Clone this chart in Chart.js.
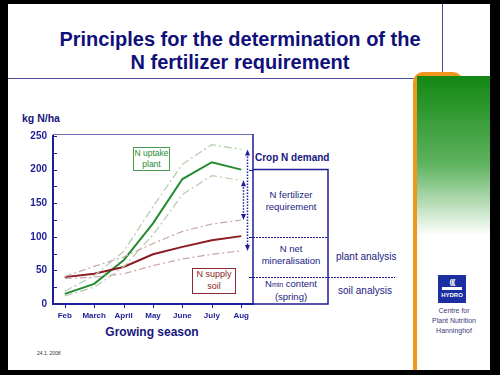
<!DOCTYPE html>
<html>
<head>
<meta charset="utf-8">
<script src="https://cdn.jsdelivr.net/npm/chart.js@4"></script>
<style>
  body { margin: 0; width: 500px; height: 375px; background: #000; overflow: hidden; font-family: "Liberation Sans", Arial, sans-serif; }
  #slide { position: absolute; left: 8px; top: 4px; width: 482px; height: 366px; background: #fff; }
  .abs { position: absolute; }
  .navy { color: #16167e; }
  .title { left: 0; width: 480px; text-align: center; font-weight: bold; font-size: 20px; color: #10107a; }
  .note { text-align: center; font-size: 9.5px; line-height: 12px; color: #1a1a80; }
  canvas { position: absolute; left: 0; top: 0; }
</style>
</head>
<body>
<div id="slide"></div>
<div class="abs title" style="top:28px;">Principles for the determination of the</div>
<div class="abs title" style="top:51px;">N fertilizer requirement</div>
<div class="abs" style="left:8px; top:78px; width:434px; height:1px; background:#4a4a96;"></div>
<div class="abs" style="left:442px; top:4px; width:1px; height:75px; background:#4a4a96;"></div>

<div class="abs" style="left:413px; top:72px; width:50px; height:298px; border-left:4px solid #f0961e; border-top:4px solid #f0961e; border-radius:10px 10px 0 0; box-sizing:border-box;"></div>
<div class="abs" style="left:417px; top:76px; width:73px; height:160px; background:linear-gradient(#128712, #5fb35f 55%, #ffffff);"></div>
<div class="abs" style="left:438px; top:275px; width:28px; height:28px; background:#1c2ea0; color:#fff; font-size:6px; font-weight:bold; text-align:center; line-height:8px;">
  <div style="margin-top:3px; font-size:8px; letter-spacing:-1px;">(((</div>
  <div style="margin:1px 4px 0 4px; height:3px; background:#fff;"></div>
  <div style="margin-top:1px;">HYDRO</div>
</div>
<div class="abs" style="left:418px; top:306px; width:72px; text-align:center; font-size:7px; line-height:10px; color:#3a3a7a;">Centre for<br>Plant Nutrition<br>Hanninghof</div>
<div class="abs" style="left:37px; top:350px; font-size:5px; color:#333;">24.1. 2008</div>

<div class="abs navy" style="left:22px; top:112px; font-size:10.5px; font-weight:bold;">kg N/ha</div>
<div class="abs navy" style="left:92px; top:325px; width:120px; text-align:center; font-size:12px; font-weight:bold;">Growing season</div>

<div class="abs" style="left:133px; top:147px; width:35px; height:22px; border:1px solid #4a9a52; color:#2a8a34; font-size:8.5px; line-height:10.5px; text-align:center; background:#fff;">N uptake<br>plant</div>
<div class="abs" style="left:192px; top:268px; width:42px; height:24px; border:1px solid #8b2a32; color:#8b1c24; font-size:9px; line-height:11.5px; text-align:center; background:#fff;">N supply<br>soil</div>

<div class="abs navy" style="left:255px; top:152px; font-size:10px; font-weight:bold;">Crop N demand</div>
<div class="abs note" style="left:253px; top:189px; width:76px;">N fertilizer<br>requirement</div>
<div class="abs note" style="left:253px; top:243px; width:76px;">N net<br>mineralisation</div>
<div class="abs note" style="left:253px; top:278px; width:76px;">N<span style="font-size:7px;">min</span> content<br>(spring)</div>
<div class="abs note" style="left:336px; top:251px; font-size:10px;">plant analysis</div>
<div class="abs note" style="left:338px; top:285px; font-size:10px;">soil analysis</div>

<canvas id="chart" width="500" height="375"></canvas>
<script>
const months = ['Feb', 'March', 'April', 'May', 'June', 'July', 'Aug'];
const uptake = [15, 30, 65, 120, 186, 211, 200];
const uptakeHigh = [19, 42, 78, 145, 208, 237, 230];
const uptakeLow = [12, 25, 55, 103, 163, 191, 184];
const supply = [40, 45, 55, 74, 85, 95, 101];
const supplyHigh = [41, 56, 70, 90, 108, 119, 125];
const supplyLow = [38, 40, 45, 57, 67, 74, 79];
const yTicks = [0, 50, 100, 150, 200, 250];
const boxLevels = [200, 100, 40];

const navy = '#1e1e96';
const pts = arr => arr.map((v, i) => ({x: i, y: v}));

function line(data, color, width, dash) {
    return {
        data: pts(data),
        borderColor: color,
        borderWidth: width,
        borderDash: dash,
        pointRadius: 0,
        tension: 0,
        fill: false
    };
}

const extras = {
    id: 'extras',
    afterDraw(chart) {
        const ctx = chart.ctx;
        const a = chart.chartArea;
        const x = chart.scales.x;
        const y = chart.scales.y;
        ctx.save();
        // frame
        ctx.strokeStyle = '#6a6ab0';
        ctx.lineWidth = 1;
        ctx.beginPath();
        ctx.moveTo(a.left, a.top - 1.5);
        ctx.lineTo(a.right, a.top - 1.5);
        ctx.stroke();
        ctx.strokeStyle = navy;
        ctx.lineWidth = 1.5;
        ctx.beginPath();
        ctx.moveTo(a.right, a.top - 2);
        ctx.lineTo(a.right, a.bottom);
        ctx.stroke();
        // tick marks
        ctx.lineWidth = 1;
        for (let v = 0; v <= 250; v += 25) {
            const py = Math.round(y.getPixelForValue(v)) + 0.5;
            ctx.beginPath();
            ctx.moveTo(a.left, py);
            ctx.lineTo(a.left + 4, py);
            ctx.stroke();
        }
        months.forEach((m, i) => {
            const px = Math.round(x.getPixelForValue(i)) + 0.5;
            ctx.beginPath();
            ctx.moveTo(px, a.bottom);
            ctx.lineTo(px, a.bottom + 4);
            ctx.stroke();
        });
        boxLevels.forEach(v => {
            const py = Math.round(y.getPixelForValue(v)) + 0.5;
            ctx.beginPath();
            ctx.moveTo(a.right - 4, py);
            ctx.lineTo(a.right, py);
            ctx.stroke();
        });
        // demand box
        const bx = a.right + 75;
        const top = y.getPixelForValue(boxLevels[0]);
        ctx.lineWidth = 1.5;
        ctx.beginPath();
        ctx.moveTo(a.right, top);
        ctx.lineTo(bx, top);
        ctx.lineTo(bx, a.bottom);
        ctx.lineTo(a.right, a.bottom);
        ctx.stroke();
        ctx.lineWidth = 1;
        ctx.setLineDash([2, 1]);
        let py = Math.round(y.getPixelForValue(boxLevels[1])) + 0.5;
        ctx.beginPath();
        ctx.moveTo(a.right, py);
        ctx.lineTo(bx, py);
        ctx.stroke();
        py = Math.round(y.getPixelForValue(boxLevels[2])) + 0.5;
        ctx.beginPath();
        ctx.moveTo(a.right, py);
        ctx.lineTo(a.right + 142, py);
        ctx.stroke();
        // dotted arrows
        const last = months.length - 1;
        function arrow(xv, v1, v2) {
            const px = Math.round(x.getPixelForValue(xv)) + 0.5;
            const y1 = y.getPixelForValue(v1);
            const y2 = y.getPixelForValue(v2);
            ctx.setLineDash([1.5, 1.5]);
            ctx.lineWidth = 1.5;
            ctx.beginPath();
            ctx.moveTo(px, y1 + 4);
            ctx.lineTo(px, y2 - 4);
            ctx.stroke();
            ctx.setLineDash([]);
            ctx.fillStyle = navy;
            ctx.beginPath();
            ctx.moveTo(px, y1);
            ctx.lineTo(px - 2.5, y1 + 6);
            ctx.lineTo(px + 2.5, y1 + 6);
            ctx.fill();
            ctx.beginPath();
            ctx.moveTo(px, y2);
            ctx.lineTo(px - 2.5, y2 - 6);
            ctx.lineTo(px + 2.5, y2 - 6);
            ctx.fill();
        }
        arrow(last + 0.2, uptakeHigh[last], supplyLow[last]);
        arrow(last + 0.05, uptakeLow[last], supplyHigh[last]);
        ctx.restore();
    }
};

const chart = new Chart(document.getElementById('chart'), {
    type: 'line',
    data: {
        datasets: [
            line(uptakeHigh, '#b2ccaa', 1.2, [8, 3, 2, 3]),
            line(uptakeLow, '#b2ccaa', 1.2, [8, 3, 2, 3]),
            line(supplyHigh, '#c9a4aa', 1.2, [7, 3, 2, 3]),
            line(supplyLow, '#c9a4aa', 1.2, [7, 3, 2, 3]),
            line(supply, '#8b1c24', 2, []),
            line(uptake, '#228a30', 2, [])
        ]
    },
    options: {
        responsive: false,
        animation: false,
        layout: { padding: { left: 0, top: 136, right: 247, bottom: 0 } },
        plugins: { legend: { display: false }, tooltip: { enabled: false } },
        scales: {
            x: {
                type: 'linear',
                min: -0.4,
                max: 6.4,
                afterFit(scale) { scale.height = 71; },
                afterBuildTicks(scale) { scale.ticks = months.map((m, i) => ({value: i})); },
                ticks: {
                    padding: 7,
                    color: navy,
                    font: { family: 'Liberation Sans', size: 8, weight: 'bold' },
                    callback: v => months[v]
                },
                grid: { display: false, drawTicks: false },
                border: { color: navy, width: 2 }
            },
            y: {
                min: 0,
                max: 250,
                afterFit(scale) { scale.width = 53; },
                afterBuildTicks(scale) { scale.ticks = yTicks.map(v => ({value: v})); },
                ticks: {
                    padding: 6,
                    color: navy,
                    font: { family: 'Liberation Sans', size: 10, weight: 'bold' }
                },
                grid: { display: false, drawTicks: false },
                border: { color: navy, width: 2 }
            }
        }
    },
    plugins: [extras]
});
</script>
</body>
</html>
